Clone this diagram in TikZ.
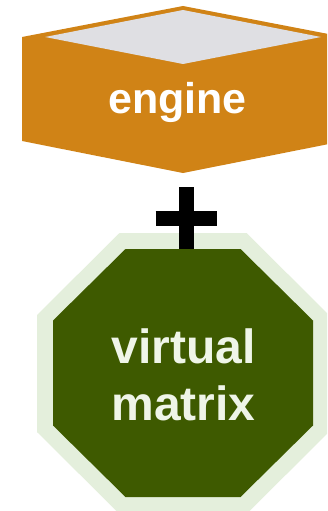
\documentclass[tikz,border=0pt]{standalone}
\usepackage{fontspec}
\setmainfont{Liberation Sans}
\definecolor{engorange}{RGB}{208,131,22}
\definecolor{engtop}{RGB}{223,223,227}
\definecolor{vmdark}{RGB}{62,90,0}
\definecolor{vmhalo}{RGB}{228,239,220}
\definecolor{vmtext}{RGB}{239,245,232}
\tikzset{
  enginelabel/.style={inner sep=0pt, text=white, font=\fontsize{43}{50}\selectfont\bfseries},
  vmlabel/.style={inner sep=0pt, align=center, text=vmtext, font=\fontsize{48}{57}\selectfont\bfseries},
  plusbar/.style={line width=15pt, draw=black}
}
\begin{document}
\begin{tikzpicture}[x=1pt,y=-1pt]
\useasboundingbox (0,0) rectangle (327,511);
\clip (0,0) rectangle (327,511);

% engine block: hexagonal body with a lighter top face
\fill[engorange] (22,37) -- (183,6) -- (344,37) -- (344,141) -- (183,173) -- (22,141) -- cycle;
\fill[engtop] (45,37) -- (183,10) -- (321,37) -- (183,64) -- cycle;
\node[enginelabel, anchor=base] (eng) at (177.5,113) {engine};

% virtual matrix: octagon with a pale halo
\fill[vmhalo] (119.5,233) -- (246.5,233) -- (329,315) -- (329,432) -- (246.5,514)
  -- (119.5,514) -- (37,432) -- (37,315) -- cycle;

% plus-shaped link between the two blocks
\coordinate (linktop) at (186.5,187);
\coordinate (linkbot) at (186.5,249);
\coordinate (barleft) at (155.5,218.5);
\coordinate (barright) at (217,218.5);
\draw[plusbar] (linktop) -- (linkbot);
\draw[plusbar] (barleft) -- (barright);

\fill[vmdark] (125.5,249) -- (240.5,249) -- (313,320.5) -- (313,425.5) -- (240.5,497)
  -- (125.5,497) -- (53,425.5) -- (53,320.5) -- cycle;
% the base anchor of a multi-line node sits on its last line
\node[vmlabel, anchor=base] (vm) at (183.5,420) {virtual\\matrix};
\end{tikzpicture}
\end{document}
